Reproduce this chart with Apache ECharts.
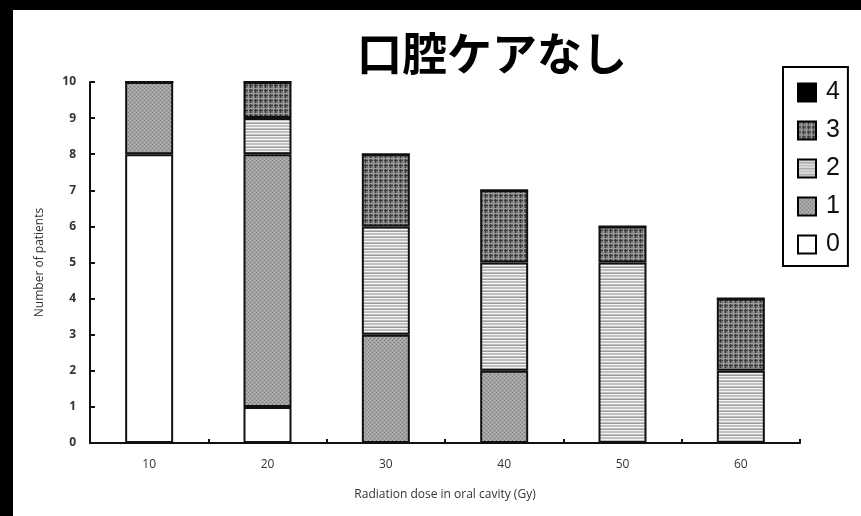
<!DOCTYPE html>
<html>
<head>
<meta charset="utf-8">
<script src="https://cdn.jsdelivr.net/npm/echarts@6/dist/echarts.min.js"></script>
<style>
  html, body { margin: 0; padding: 0; background: #000; }
  #chart { width: 861px; height: 516px; }
</style>
</head>
<body>
<div id="chart"></div>
<script>
// Number of patients per mucositis grade at each radiation dose
const doses = ['10', '20', '30', '40', '50', '60'];
const grade0 = [8, 1, 0, 0, 0, 0];
const grade1 = [2, 7, 3, 2, 0, 0];
const grade2 = [0, 1, 3, 3, 5, 2];
const grade3 = [0, 1, 2, 2, 1, 2];
const grade4 = [0, 0, 0, 0, 0, 0];
const gradeNames = ['0', '1', '2', '3', '4'];
const yTicks = [0, 1, 2, 3, 4, 5, 6, 7, 8, 9, 10];

// Small repeating canvas tiles used as bar fills
function tile(w, h, draw) {
  const c = document.createElement('canvas');
  c.width = w; c.height = h;
  const ctx = c.getContext('2d');
  draw(ctx);
  return { image: c, repeat: 'repeat' };
}

// grade 1: fine gray stipple
const stipple = tile(4, 4, ctx => {
  ctx.fillStyle = '#a2a2a2'; ctx.fillRect(0, 0, 4, 4);
  ctx.fillStyle = '#7a7a7a';
  ctx.fillRect(0, 0, 1, 1); ctx.fillRect(2, 2, 1, 1);
  ctx.fillStyle = '#bababa';
  ctx.fillRect(2, 0, 1, 1); ctx.fillRect(0, 2, 1, 1);
});

// grade 2: light horizontal lines
const hlines = tile(4, 6, ctx => {
  ctx.fillStyle = '#c0c0c0'; ctx.fillRect(0, 0, 4, 6);
  ctx.fillStyle = '#f4f4f4'; ctx.fillRect(0, 1, 4, 1); ctx.fillRect(0, 4, 4, 1);
  ctx.fillStyle = '#9c9c9c'; ctx.fillRect(0, 3, 4, 1);
});

// grade 3: dark cross-hatch
const plaid = tile(5, 5, ctx => {
  ctx.fillStyle = '#747474'; ctx.fillRect(0, 0, 5, 5);
  ctx.fillStyle = '#3a3a3a';
  ctx.fillRect(0, 0, 1, 5); ctx.fillRect(0, 0, 5, 1);
  ctx.fillStyle = '#9a9a9a';
  ctx.fillRect(3, 0, 1, 5); ctx.fillRect(0, 3, 5, 1);
});

const fills = ['#ffffff', stipple, hlines, plaid, '#000000'];
const values = [grade0, grade1, grade2, grade3, grade4];

const axisFont = 'Open Sans, DejaVu Sans, sans-serif';

const chart = echarts.init(document.getElementById('chart'), null, { renderer: 'canvas' });

chart.setOption({
  backgroundColor: '#000000',
  animation: false,
  graphic: [{
    type: 'rect',
    z: -10,
    shape: { x: 13, y: 10, width: 848, height: 506 },
    style: { fill: '#ffffff' }
  }],
  title: {
    text: '口腔ケアなし',
    left: 487,
    textAlign: 'center',
    top: 26,
    textStyle: {
      fontFamily: 'Noto Sans CJK JP',
      fontWeight: 'bold',
      fontSize: 45,
      color: '#000'
    }
  },
  legend: {
    orient: 'vertical',
    left: 783,
    top: 67,
    width: 68,
    padding: [13, 8, 9, 14],
    itemGap: 13,
    itemWidth: 18,
    itemHeight: 18,
    icon: 'rect',
    borderColor: '#000',
    borderWidth: 2,
    data: ['4', '3', '2', '1', '0'],
    itemStyle: { borderColor: '#000', borderWidth: 2 },
    textStyle: {
      fontFamily: 'Liberation Sans, Arial, sans-serif',
      fontSize: 25,
      color: '#111',
      padding: [0, 0, 0, 5]
    }
  },
  grid: { left: 90, right: 61, top: 82, bottom: 73, containLabel: false },
  xAxis: {
    type: 'category',
    data: doses,
    boundaryGap: true,
    name: 'Radiation dose in oral cavity (Gy)',
    nameLocation: 'middle',
    nameGap: 46,
    nameTextStyle: { fontFamily: axisFont, fontSize: 12, color: '#333' },
    axisLine: { lineStyle: { color: '#111', width: 2 } },
    axisTick: { show: true, inside: true, length: 4, lineStyle: { color: '#111', width: 2 } },
    axisLabel: { margin: 16, fontFamily: axisFont, fontSize: 12, color: '#333' }
  },
  yAxis: {
    type: 'value',
    min: yTicks[0],
    max: yTicks[yTicks.length - 1],
    interval: 1,
    name: 'Number of patients',
    nameLocation: 'middle',
    nameGap: 44,
    nameRotate: 90,
    nameTextStyle: { fontFamily: axisFont, fontSize: 12, color: '#333' },
    splitLine: { show: false },
    axisLine: { show: true, lineStyle: { color: '#111', width: 2 } },
    axisTick: { show: true, inside: true, length: 5, lineStyle: { color: '#111', width: 2 } },
    axisLabel: { margin: 14, fontFamily: axisFont, fontSize: 12, fontWeight: 'bold', color: '#333' }
  },
  series: gradeNames.map((name, i) => ({
    name: name,
    type: 'bar',
    stack: 'grade',
    barWidth: 48,
    data: values[i],
    itemStyle: {
      color: fills[i],
      borderColor: '#111',
      borderWidth: 2
    }
  }))
});
</script>
</body>
</html>
